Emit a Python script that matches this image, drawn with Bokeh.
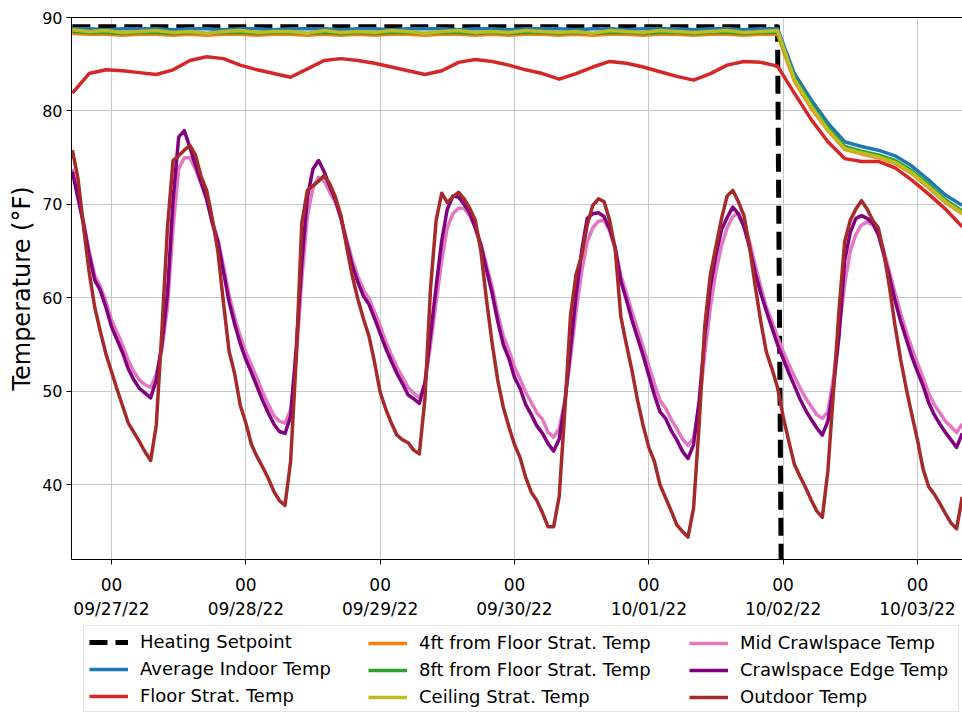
import pandas as pd
from bokeh.plotting import figure
from bokeh.layouts import column
from bokeh.models import (Range1d, DatetimeTickFormatter, DaysTicker, FixedTicker,
                          SingleIntervalTicker, LinearAxis, Legend, LegendItem)
from bokeh.embed import file_html
from bokeh.resources import INLINE

# ---------------- data ----------------
hourly_time = pd.date_range("2022-09-26 17:00", periods=160, freq="h")
three_hour_time = pd.date_range("2022-09-26 17:00", periods=54, freq="3h")

setpoint_time = pd.to_datetime(["2022-09-26 17:00", "2022-10-01 23:00",
                                "2022-10-02 00:00", "2022-10-03 08:00"])
setpoint_temp = [89.0, 89.0, 0.0, 0.0]

average_indoor = [
    88.8, 88.8, 88.7, 88.8, 88.8, 88.8, 88.7, 88.8, 88.8, 88.7,
    88.8, 88.8, 88.7, 88.8, 88.8, 88.8, 88.7, 88.8, 88.8, 88.7,
    88.8, 88.8, 88.8, 88.7, 88.8, 88.8, 88.7, 88.8, 88.8, 88.8,
    88.7, 88.8, 88.8, 88.7, 88.8, 88.8, 88.8, 88.7, 88.8, 88.8,
    88.7, 88.8, 88.8, 84.0, 81.2, 78.7, 76.7, 76.2, 75.8, 75.2,
    74.1, 72.6, 71.0, 69.9]

floor_strat = [
    81.9, 84.0, 84.4, 84.3, 84.1, 83.9, 84.4, 85.4, 85.8, 85.6,
    84.9, 84.4, 84.0, 83.6, 84.5, 85.4, 85.6, 85.4, 85.1, 84.7,
    84.3, 83.9, 84.3, 85.2, 85.5, 85.3, 84.9, 84.4, 84.0, 83.4,
    84.0, 84.7, 85.3, 85.1, 84.7, 84.2, 83.7, 83.3, 84.0, 84.9,
    85.3, 85.2, 84.8, 81.9, 79.1, 76.7, 74.9, 74.6, 74.6, 73.9,
    72.6, 71.1, 69.5, 67.6]

ft4_strat = [
    88.3, 88.2, 88.2, 88.1, 88.2, 88.2, 88.1, 88.2, 88.1, 88.2,
    88.2, 88.1, 88.2, 88.2, 88.1, 88.2, 88.1, 88.2, 88.1, 88.2,
    88.2, 88.1, 88.2, 88.2, 88.1, 88.2, 88.1, 88.2, 88.2, 88.1,
    88.2, 88.1, 88.2, 88.2, 88.1, 88.2, 88.2, 88.1, 88.2, 88.2,
    88.1, 88.2, 88.2, 83.2, 80.3, 77.9, 75.9, 75.4, 75.0, 74.4,
    73.3, 71.8, 70.2, 69.0]

ft8_strat = [
    88.5, 88.4, 88.4, 88.3, 88.4, 88.4, 88.3, 88.4, 88.3, 88.4,
    88.4, 88.3, 88.4, 88.4, 88.3, 88.4, 88.3, 88.4, 88.3, 88.4,
    88.4, 88.3, 88.4, 88.4, 88.3, 88.4, 88.3, 88.4, 88.4, 88.3,
    88.4, 88.3, 88.4, 88.4, 88.3, 88.4, 88.4, 88.3, 88.4, 88.4,
    88.3, 88.4, 88.4, 83.6, 80.7, 78.2, 76.2, 75.7, 75.3, 74.7,
    73.6, 72.1, 70.5, 69.3]

ceiling_strat = [
    88.7, 88.5, 88.6, 88.4, 88.5, 88.6, 88.4, 88.5, 88.3, 88.5,
    88.6, 88.4, 88.5, 88.5, 88.3, 88.6, 88.4, 88.5, 88.4, 88.6,
    88.5, 88.3, 88.5, 88.6, 88.4, 88.5, 88.4, 88.6, 88.5, 88.4,
    88.5, 88.3, 88.6, 88.5, 88.4, 88.6, 88.5, 88.4, 88.5, 88.6,
    88.4, 88.5, 88.6, 83.4, 80.5, 78.0, 76.0, 75.5, 75.1, 74.5,
    73.4, 71.9, 70.3, 69.1]

mid_crawl = [
    73.8, 70.9, 68.2, 65.0, 62.4, 61.2, 59.6, 57.6, 56.3, 54.9,
    53.3, 52.1, 51.2, 50.7, 50.4, 51.8, 54.5, 59.0, 67.5, 73.8,
    75.0, 75.0, 73.8, 72.2, 70.5, 68.2, 66.3, 63.4, 60.3, 57.9,
    55.9, 54.2, 52.8, 51.4, 49.9, 48.6, 47.4, 46.8, 46.6, 48.0,
    53.5, 62.0, 68.8, 71.8, 72.9, 72.5, 71.3, 70.2, 68.5, 66.3,
    64.1, 62.3, 60.9, 59.9, 58.5, 57.0, 55.3, 53.9, 52.6, 51.5,
    50.4, 49.8, 49.3, 50.8, 55.0, 59.5, 64.0, 67.5, 69.0, 69.6,
    69.6, 68.8, 67.5, 65.8, 63.5, 61.2, 58.3, 55.9, 54.4, 52.6,
    51.3, 49.9, 48.8, 47.7, 47.0, 45.6, 45.1, 46.0, 49.0, 53.5,
    58.5, 62.8, 66.0, 67.5, 68.2, 68.3, 67.2, 65.4, 62.4, 60.5,
    58.5, 56.6, 54.7, 52.7, 50.8, 49.0, 48.2, 47.0, 46.0, 44.9,
    44.2, 45.0, 48.5, 54.0, 59.0, 62.8, 65.6, 67.5, 68.7, 69.0,
    67.9, 66.0, 63.5, 61.2, 59.0, 57.5, 55.8, 54.3, 52.9, 51.6,
    50.4, 49.3, 48.4, 47.5, 47.1, 47.8, 51.5, 56.5, 61.5, 65.0,
    66.8, 67.8, 68.1, 67.8, 66.8, 65.0, 62.8, 60.5, 58.3, 56.4,
    54.6, 53.0, 51.5, 49.8, 48.6, 47.7, 46.8, 46.2, 45.6, 46.5]

crawl_edge = [
    73.5, 70.7, 67.9, 64.6, 61.9, 60.8, 59.0, 56.9, 55.5, 54.1,
    52.4, 51.2, 50.3, 49.8, 49.3, 51.2, 55.0, 60.5, 70.5, 77.2,
    77.9, 76.1, 74.2, 72.4, 70.6, 68.0, 66.0, 62.8, 59.6, 57.2,
    55.1, 53.4, 52.0, 50.5, 49.0, 47.7, 46.5, 45.7, 45.5, 47.3,
    54.6, 63.8, 70.8, 73.8, 74.7, 73.5, 71.9, 70.5, 68.5, 65.9,
    63.5, 61.7, 60.2, 59.3, 57.8, 56.2, 54.6, 53.2, 51.9, 50.8,
    49.6, 49.2, 48.7, 50.9, 56.0, 61.2, 66.1, 69.5, 70.9, 70.8,
    70.0, 69.1, 67.5, 65.6, 63.0, 60.5, 57.5, 55.0, 53.5, 51.5,
    50.3, 48.6, 47.5, 46.3, 45.5, 44.4, 43.6, 44.9, 48.8, 54.5,
    60.3, 65.0, 68.5, 69.0, 69.1, 68.7, 67.4, 65.3, 61.8, 59.8,
    57.6, 55.7, 53.8, 51.7, 49.6, 47.8, 47.1, 45.8, 44.8, 43.6,
    42.8, 44.3, 49.0, 55.9, 61.2, 64.6, 67.3, 68.6, 69.7, 69.0,
    67.6, 65.4, 62.7, 60.5, 58.6, 56.8, 55.0, 53.5, 52.0, 50.6,
    49.2, 48.0, 47.0, 46.1, 45.3, 46.8, 50.5, 56.0, 64.0, 67.0,
    68.5, 68.8, 68.5, 68.0, 66.8, 64.6, 62.2, 59.7, 57.5, 55.6,
    53.7, 52.1, 50.6, 48.8, 47.5, 46.5, 45.6, 44.8, 44.0, 45.5]

outdoor = [
    75.8, 72.8, 67.6, 62.8, 59.0, 56.4, 54.0, 52.1, 50.2, 48.4,
    46.6, 45.6, 44.6, 43.5, 42.6, 46.4, 56.5, 67.5, 74.7, 75.2,
    75.8, 76.3, 75.3, 73.0, 71.5, 68.5, 65.0, 59.5, 54.3, 51.9,
    48.5, 46.6, 44.3, 43.0, 41.9, 40.7, 39.3, 38.3, 37.8, 42.5,
    53.5, 68.0, 71.5, 72.0, 72.5, 73.1, 72.2, 70.8, 68.8, 65.5,
    62.4, 59.9, 57.8, 55.9, 53.1, 49.9, 48.1, 46.6, 45.3, 44.8,
    44.5, 43.7, 43.3, 49.2, 61.0, 68.3, 71.2, 70.2, 70.8, 71.3,
    70.6, 69.6, 68.3, 65.0, 59.8, 55.2, 51.2, 48.3, 46.2, 44.3,
    42.9, 40.8, 39.2, 38.3, 37.0, 35.5, 35.5, 38.8, 48.0, 58.0,
    62.5, 64.5, 67.8, 69.9, 70.6, 70.3, 68.3, 65.2, 58.0, 55.0,
    52.2, 49.0, 46.3, 44.0, 42.5, 40.0, 38.6, 37.2, 35.7, 35.0,
    34.4, 37.5, 46.5, 57.0, 62.5, 65.5, 68.5, 70.9, 71.5, 70.3,
    68.8, 65.5, 61.3, 57.5, 54.2, 52.4, 50.4, 47.3, 44.7, 42.2,
    40.9, 39.7, 38.4, 37.2, 36.5, 41.5, 50.0, 58.8, 66.0, 68.3,
    69.5, 70.4, 69.5, 68.3, 67.5, 64.8, 61.2, 57.0, 53.4, 50.3,
    47.5, 44.8, 41.7, 39.8, 39.0, 38.0, 36.9, 35.9, 35.3, 38.7]

x_start = pd.Timestamp("2022-09-26 16:51")
x_end = pd.Timestamp("2022-10-03 08:03")

FONT = "DejaVu Sans"

series = [
    ("Heating Setpoint", setpoint_time, setpoint_temp, "black", 5, "18 8"),
    ("Average Indoor Temp", three_hour_time, average_indoor, "#1f77b4", 3.5, "solid"),
    ("Floor Strat. Temp", three_hour_time, floor_strat, "#d62728", 3.5, "solid"),
    ("4ft from Floor Strat. Temp", three_hour_time, ft4_strat, "#ff7f0e", 3.5, "solid"),
    ("8ft from Floor Strat. Temp", three_hour_time, ft8_strat, "#2ca02c", 3.5, "solid"),
    ("Ceiling Strat. Temp", three_hour_time, ceiling_strat, "#bcbd22", 3.5, "solid"),
    ("Mid Crawlspace Temp", hourly_time, mid_crawl, "#e377c2", 3.5, "solid"),
    ("Crawlspace Edge Temp", hourly_time, crawl_edge, "#800080", 3.5, "solid"),
    ("Outdoor Temp", hourly_time, outdoor, "#a52a2a", 3.5, "solid"),
]

# ---------------- main chart ----------------
p = figure(width=962, height=622, x_axis_type="datetime",
           output_backend="svg", toolbar_location=None,
           x_range=Range1d(x_start, x_end), y_range=Range1d(32, 90),
           min_border_left=71, min_border_right=0, min_border_top=17,
           min_border_bottom=63)
p.outline_line_color = None
p.background_fill_color = "white"
p.border_fill_color = "white"

for label, t, v, color, w, dash in series:
    p.line(t, v, line_color=color, line_width=w, line_dash=dash,
           line_join="round")

xa = p.xaxis[0]
xa.ticker = DaysTicker(days=list(range(1, 32)))
fmt = "%H\n%m/%d/%y"
xa.formatter = DatetimeTickFormatter(days=fmt, hours=fmt, months=fmt, years=fmt,
                                     minutes=fmt, hourmin=fmt)
ya = p.yaxis[0]
ya.ticker = SingleIntervalTicker(interval=10, num_minor_ticks=0)
ya.axis_label = "Temperature (°F)"
ya.axis_label_text_font = FONT
ya.axis_label_text_font_size = "24px"
ya.axis_label_text_font_style = "normal"
ya.axis_label_text_color = "black"
ya.axis_label_standoff = 3

for ax, size in ((xa, "17px"), (ya, "16px")):
    ax.major_label_text_font = FONT
    ax.major_label_text_font_size = size
    ax.major_label_text_color = "black"
    ax.major_tick_out = 5
    ax.major_tick_in = 0
    ax.minor_tick_out = 0
    ax.minor_tick_in = 0
    ax.major_tick_line_color = "black"
    ax.axis_line_color = "black"
    ax.axis_line_width = 1
xa.major_label_standoff = 10
ya.major_label_standoff = 4
xa.major_label_text_align = "center"

top = LinearAxis(ticker=FixedTicker(ticks=[]), major_label_text_font_size="0px",
                 major_tick_out=0, major_tick_in=0, minor_tick_out=0,
                 minor_tick_in=0, major_label_standoff=0,
                 axis_line_color="black", axis_line_width=1)
p.add_layout(top, "above")

p.xgrid.grid_line_color = "#c8c8c8"
p.ygrid.grid_line_color = "#c8c8c8"
p.xgrid.grid_line_width = 1
p.ygrid.grid_line_width = 1

# ---------------- legend strip ----------------
# Same series again, on a strip whose ranges keep them out of view:
# only their legend entries show.
pl = figure(width=962, height=91, x_range=Range1d(0, 1), y_range=Range1d(0, 1),
            output_backend="svg", toolbar_location=None,
            min_border_left=71, min_border_right=0, min_border_top=0,
            min_border_bottom=0, x_axis_location=None, y_axis_location=None)
pl.outline_line_color = None
pl.grid.visible = False

items = []
for label, t, v, color, w, dash in series:
    r = pl.line(t, v, line_color=color, line_width=w, line_dash=dash)
    items.append(LegendItem(label=label, renderers=[r]))

# offsets are measured from the strip's frame (which starts at x = 71)
col_offsets = [(12, 1), (297, 6), (618, 6)]
for i, (offx, offy) in enumerate(col_offsets):
    lg = Legend(items=items[3 * i:3 * i + 3], orientation="vertical",
                location=(offx, offy))
    lg.label_text_font = FONT
    lg.label_text_font_size = "18px"
    lg.label_text_color = "black"
    lg.glyph_width = 39
    lg.glyph_height = 20
    lg.label_standoff = 12
    lg.spacing = 6
    lg.margin = 0
    lg.border_line_width = 1
    if i == 0:
        lg.padding = 5
        lg.label_width = 813
        lg.border_line_color = "#cccccc"
        lg.background_fill_color = "white"
        lg.background_fill_alpha = 1.0
    else:
        lg.padding = 6
        lg.border_line_color = None
        lg.background_fill_alpha = 0.0
    pl.add_layout(lg, "center")

layout = column(p, pl, spacing=0)
open("out.html", "w").write(file_html(layout, INLINE))
